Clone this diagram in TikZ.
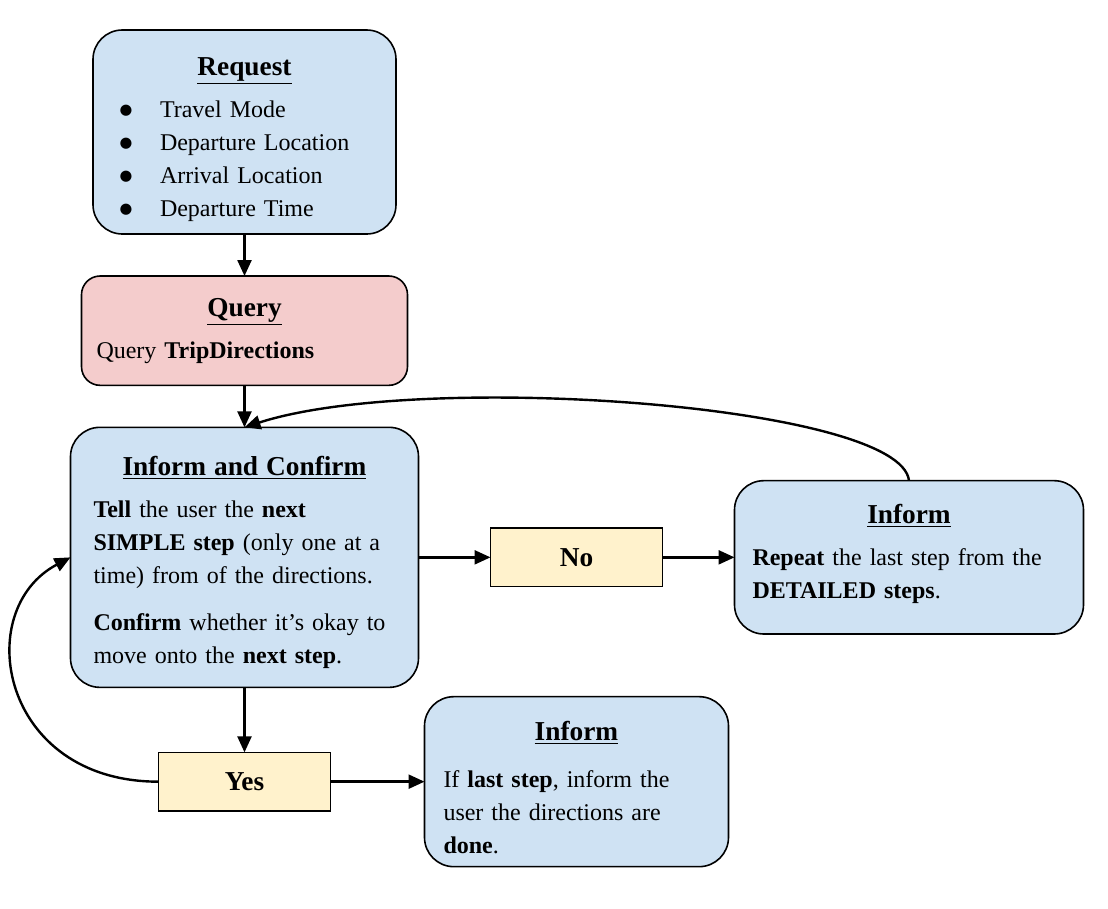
\documentclass[tikz,border=0pt]{standalone}
\usepackage{fontspec}
\setmainfont{Liberation Serif}
\newfontfamily\symfont{DejaVu Sans}
\usepackage{xcolor}
\definecolor{boxblue}{HTML}{CFE2F3}
\definecolor{boxred}{HTML}{F4CCCC}
\definecolor{boxyellow}{HTML}{FFF2CC}
\usepackage{tikz}
\usetikzlibrary{positioning,arrows.meta}
\newcommand{\boxhead}[1]{\makebox[\hsize]{\fontsize{20.5}{26}\selectfont\bfseries\underline{#1}}}
\newcommand{\bitem}[1]{\hspace*{6.5pt}\makebox[30.25pt][l]{\symfont\fontsize{11}{11}\selectfont\raisebox{2.5pt}{●}}#1}
\tikzset{
    infobox/.style={
    rectangle,rounded corners=22pt,draw=black,line width=1.2pt,outer sep=0pt,fill=boxblue,align=left,inner ysep=6pt,font=\fontsize{18}{24.75}\selectfont
    },
    querybox/.style={
    infobox,fill=boxred,rounded corners=14pt
    },
    answer/.style={
    rectangle,draw=black,line width=1.2pt,outer sep=0pt,fill=boxyellow,minimum width=129pt,minimum height=44pt,font=\fontsize{20.5}{24}\selectfont\bfseries
    },
  line/.style={draw, line width=1.8pt, -{Triangle[length=12pt,width=10.5pt]}}
}
\begin{document}
\begin{tikzpicture}[x=0.75pt,y=-0.75pt]
    \useasboundingbox (0,0) rectangle (1108,908);

    \node[infobox,text width=200.25pt,inner xsep=13.5pt,minimum height=153pt] (request) at (244.5,132)
      {\boxhead{\rule{0pt}{25pt}Request}\\[6.75pt]
       \bitem{Travel Mode}\\
       \bitem{Departure Location}\\
       \bitem{Arrival Location}\\
       \bitem{Departure Time}};
    \node[querybox,text width=222pt,inner xsep=11.25pt,minimum height=82pt,below=31.5pt of request] (query)
      {\boxhead{Query}\\[6.75pt]
       Query \textbf{TripDirections}};
    \node[infobox,text width=226.5pt,inner xsep=17.25pt,minimum height=195pt,below=31.5pt of query] (confirm)
      {\boxhead{\rule{0pt}{22pt}Inform and Confirm}\\[6.75pt]
       \textbf{Tell} the user the \textbf{next}\\
       \textbf{SIMPLE step} (only one at a\\
       time) from of the directions.\\[10pt]
       \textbf{Confirm} whether it’s okay to\\
       move onto the \textbf{next step}.};

    \node[answer,right=54pt of confirm] (no) {No};
    \node[infobox,text width=234.75pt,inner xsep=13.5pt,minimum height=115pt,right=54pt of no] (repeat)
      {\boxhead{Inform}\\[6.75pt]
       \textbf{Repeat} the last step from the\\
       \textbf{DETAILED steps}.\rule[-8.5pt]{0pt}{8.5pt}};

    \node[answer,below=48.75pt of confirm] (yes) {Yes};
    \node[infobox,text width=199.5pt,inner xsep=14.25pt,minimum height=127.5pt,right=70.5pt of yes] (done)
      {\boxhead{\rule{0pt}{23pt}Inform}\\[10pt]
       If \textbf{last step}, inform the\\
       user the directions are\\
       \textbf{done}.};

    \begin{scope} [every path/.style=line]
      \path (request.south) -- (query.north);
      \path (query.south) -- (confirm.north);
      \path (confirm) -- (no);
      \path (no) -- (repeat);
      \path (confirm.south) -- (yes.north);
      \path (yes) -- (done);

      \path (repeat.north) .. controls +(-8,-76) and +(176,-57) .. (confirm.north);
      \path (yes.west) .. controls +(-158,0) and +(-100,53) .. (confirm.west);
    \end{scope}
  \end{tikzpicture}
\end{document}
